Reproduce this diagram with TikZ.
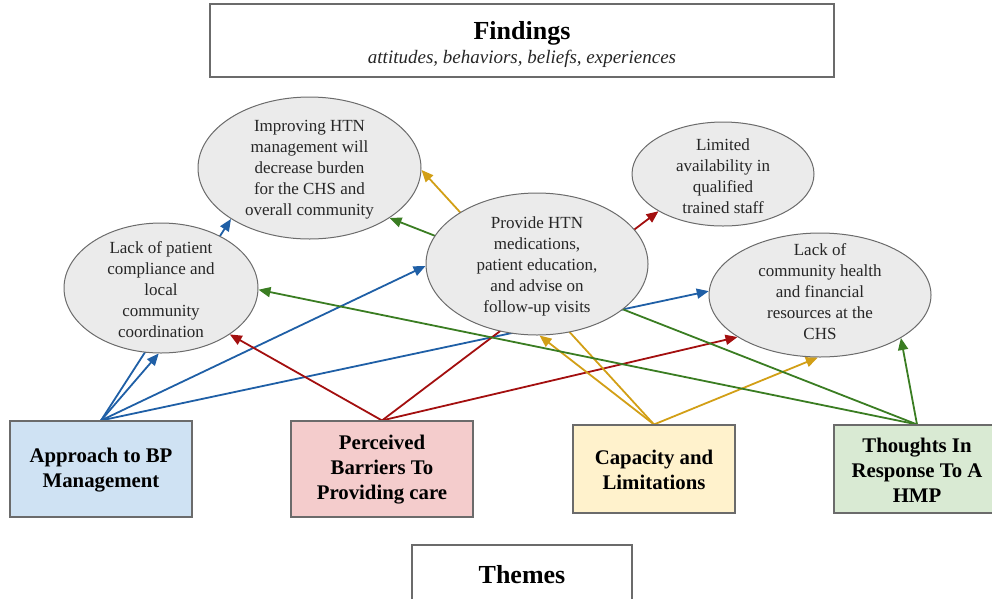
\documentclass[tikz,border=0pt]{standalone}
\usepackage{fontspec}
\setmainfont{Liberation Serif}
\usetikzlibrary{shapes.geometric,arrows.meta,backgrounds}
\definecolor{cblue}{HTML}{1F5FA6}
\definecolor{cred}{HTML}{A30F0F}
\definecolor{cyel}{HTML}{D29F16}
\definecolor{cgreen}{HTML}{3A7D22}
\definecolor{fblue}{HTML}{CFE2F3}
\definecolor{fred}{HTML}{F4CCCC}
\definecolor{fyel}{HTML}{FFF2CC}
\definecolor{fgreen}{HTML}{D9EAD3}
\definecolor{egray}{HTML}{EBEBEB}
\definecolor{bgray}{HTML}{6B6B6B}
\definecolor{tgray}{HTML}{262626}
\begin{document}
\begin{tikzpicture}[x=1pt,y=-1pt,
  plainbox/.style={draw=bgray,line width=1.1pt,fill=white,inner sep=0pt},
  themebox/.style={draw=bgray,line width=1.1pt,inner sep=0pt,minimum width=182pt,minimum height=96pt},
  oval/.style={ellipse,draw=bgray,line width=1pt,fill=egray,inner sep=0pt},
  ovaltext/.style={align=center,text=tgray,font=\fontsize{17}{21}\selectfont},
  themetext/.style={align=center,font=\fontsize{20.8}{25}\selectfont\bfseries},
  link/.style={line width=1.8pt,-{Triangle[length=12pt,width=10pt]}}
]
\useasboundingbox (0,0) rectangle (992,598);

% header / footer boxes
\node[plainbox,minimum width=624pt,minimum height=73pt] (find) at (522,40.5) {};
\node[font=\fontsize{26}{30}\selectfont\bfseries] (findt) at (522,33) {Findings};
\node[font=\fontsize{19}{22}\selectfont\itshape,text=tgray] (finds) at (522,58.5) {attitudes, behaviors, beliefs, experiences};
\node[plainbox,minimum width=220pt,minimum height=70pt] (themes) at (522,580) {};
\node[font=\fontsize{26}{30}\selectfont\bfseries] (themest) at (522,575) {Themes};

% theme boxes
\node[themebox,fill=fblue] (a) at (101,469) {};
\node[themetext] (at) at (101,470) {Approach to BP\\Management};
\node[themebox,fill=fred] (p) at (382,469) {};
\node[themetext] (pt) at (382,470) {Perceived\\Barriers To\\Providing care};
\node[themebox,fill=fyel,minimum width=162pt,minimum height=88pt] (c) at (654,469) {};
\node[themetext] (ct) at (654,470) {Capacity and\\Limitations};
\node[themebox,fill=fgreen,minimum width=166pt,minimum height=88pt] (t) at (917,469) {};
\node[themetext] (tt) at (917,470) {Thoughts In\\Response To A\\HMP};

% findings ellipses
\node[oval,minimum width=223pt,minimum height=142pt] (e1) at (309.5,168) {};
\node[ovaltext] (e1t) at (309.5,170) {Improving HTN\\management will\\decrease burden\\for the CHS and\\overall community};
\node[oval,minimum width=194pt,minimum height=130pt] (e2) at (161,288) {};
\node[ovaltext] (e2t) at (161,290) {Lack of patient\\compliance and\\local\\community\\coordination};
\node[oval,minimum width=222pt,minimum height=142pt] (e3) at (537,264) {};
\node[ovaltext] (e3t) at (537,266) {Provide HTN\\medications,\\patient education,\\and advise on\\follow-up visits};
\node[oval,minimum width=182pt,minimum height=104pt] (e4) at (723,174) {};
\node[ovaltext] (e4t) at (723,176) {Limited\\availability in\\qualified\\trained staff};
\node[oval,minimum width=222pt,minimum height=124pt] (e5) at (820,295) {};
\node[ovaltext] (e5t) at (820,292) {Lack of\\community health\\and financial\\resources at the\\CHS};

\begin{scope}[on background layer]
% blue
\draw[link,cblue] (a.north) -- (e1.213);
\draw[link,cblue] (a.north) -- (e2.268);
\draw[link,cblue] (a.north) -- (e3.181);
\draw[link,cblue] (a.north) -- (e5.178);
% red
\draw[link,cred] (p.north) -- (e2.-34);
\draw[link,cred] (p.north) -- (e4.210);
\draw[link,cred] (p.north) -- (e5.207);
% yellow
\draw[link,cyel] (c.north) -- (e1.-1);
\draw[link,cyel] (c.north) -- (e3.-88);
\draw[link,cyel] (c.north) -- (e5.-92);
% green
\draw[link,cgreen] (t.north) -- (e1.-32);
\draw[link,cgreen] (t.north) -- (e2.-1);
\draw[link,cgreen] (t.north) -- (e5.-28);
\end{scope}
\end{tikzpicture}
\end{document}
